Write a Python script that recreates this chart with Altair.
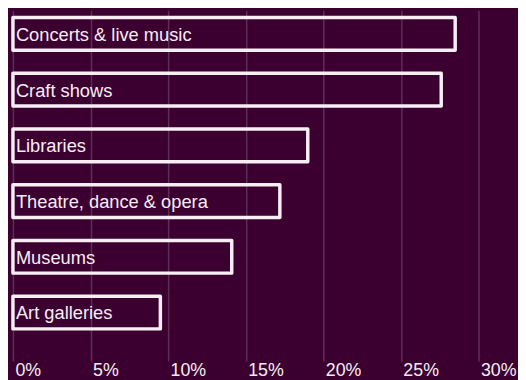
import altair as alt
import pandas as pd

categories = [
    "Concerts & live music",
    "Craft shows",
    "Libraries",
    "Theatre, dance & opera",
    "Museums",
    "Art galleries",
]
shares = [28.5, 27.6, 19.0, 17.2, 14.1, 9.5]
tick_values = [0, 5, 10, 15, 20, 25, 30]

df = pd.DataFrame({"category": categories, "share": shares})

BG = "#3b0030"
INK = "#f6eef3"
FONT = "Liberation Sans"

y_enc = alt.Y(
    "category:N",
    sort=categories,
    axis=None,
    scale=alt.Scale(paddingInner=0.415, paddingOuter=0.355, align=0.1875),
)
x_enc = alt.X(
    "share:Q",
    scale=alt.Scale(domain=[0, 30], nice=False, zero=True),
    axis=alt.Axis(
        values=tick_values,
        labelExpr="datum.value + '%'",
        grid=True,
        gridColor="#ffffff",
        gridOpacity=0.18,
        gridWidth=1.5,
        domain=False,
        ticks=False,
        tickSize=0,
        labelPadding=1,
        labelAlign="left",
        labelBaseline="top",
        labelColor=INK,
        labelFont=FONT,
        labelFontSize=18,
        labelOffset=2,
        title=None,
    ),
)

bars = alt.Chart(df).mark_bar(
    fillOpacity=0,
    stroke=INK,
    strokeWidth=3.5,
    strokeJoin="round",
).encode(x=x_enc, y=y_enc)

labels = alt.Chart(df).mark_text(
    align="left",
    baseline="middle",
    dx=3,
    dy=1,
    font=FONT,
    fontSize=18.5,
    color=INK,
).encode(x=alt.datum(0), y=y_enc, text="category:N")

chart = (
    alt.layer(bars, labels)
    .properties(
        width=471,
        height=355,
        padding={"left": 5, "top": 0, "right": 40, "bottom": 17},
        autosize=alt.AutoSizeParams(type="none"),
        background=BG,
    )
    .configure_view(stroke=None)
)

chart.save("out.html", embed_options={"renderer": "svg", "actions": False})
